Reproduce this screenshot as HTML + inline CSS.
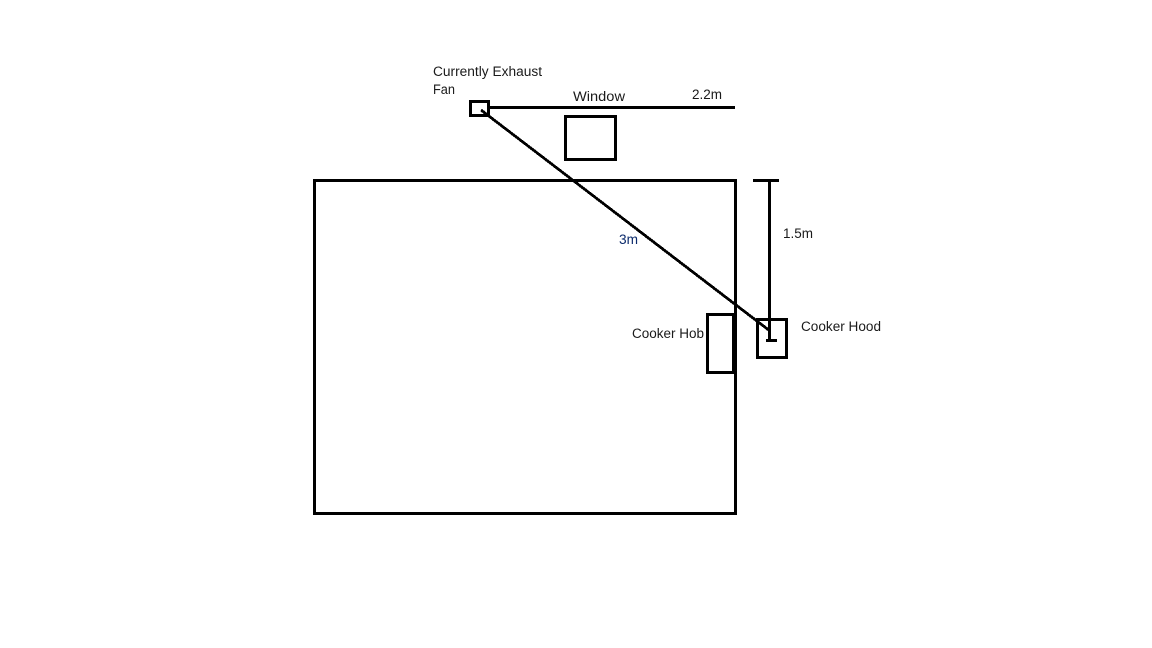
<!DOCTYPE html>
<html>
<head>
<meta charset="utf-8">
<style>
html,body{margin:0;padding:0;background:#fff;width:1152px;height:648px;overflow:hidden}
svg{display:block}
text{font-family:"Liberation Sans",sans-serif;font-size:13.5px;fill:#1a1a1a}
</style>
</head>
<body>
<svg width="1152" height="648" viewBox="0 0 1152 648" xmlns="http://www.w3.org/2000/svg">
<rect width="1152" height="648" fill="#fff"/>
<g fill="none" stroke="#000" stroke-width="3" shape-rendering="crispEdges">
<rect x="314.5" y="180.5" width="421" height="333"/>
<rect x="470.5" y="101.5" width="18" height="14"/>
<rect x="565.5" y="116.5" width="50" height="43"/>
<rect x="707.5" y="314.5" width="26" height="58"/>
<rect x="757.5" y="319.5" width="29" height="38"/>
<path d="M488 107.5H735M753 180.5H779M769.5 180V340M766 340.5H777"/>
</g>
<path d="M481 110L770 331" fill="none" stroke="#000" stroke-width="2.8" shape-rendering="crispEdges"/>
<text x="433" y="76" textLength="109" lengthAdjust="spacingAndGlyphs">Currently Exhaust</text>
<text x="433" y="94" textLength="22" lengthAdjust="spacingAndGlyphs">Fan</text>
<text x="573" y="101" textLength="52" lengthAdjust="spacingAndGlyphs">Window</text>
<text x="692" y="99" textLength="30" lengthAdjust="spacingAndGlyphs">2.2m</text>
<text x="619" y="244" textLength="19" lengthAdjust="spacingAndGlyphs" style="fill:#0b2a6b">3m</text>
<text x="783" y="238" textLength="30" lengthAdjust="spacingAndGlyphs">1.5m</text>
<text x="632" y="338" textLength="72" lengthAdjust="spacingAndGlyphs">Cooker Hob</text>
<text x="801" y="331" textLength="80" lengthAdjust="spacingAndGlyphs">Cooker Hood</text>
</svg>
</body>
</html>
